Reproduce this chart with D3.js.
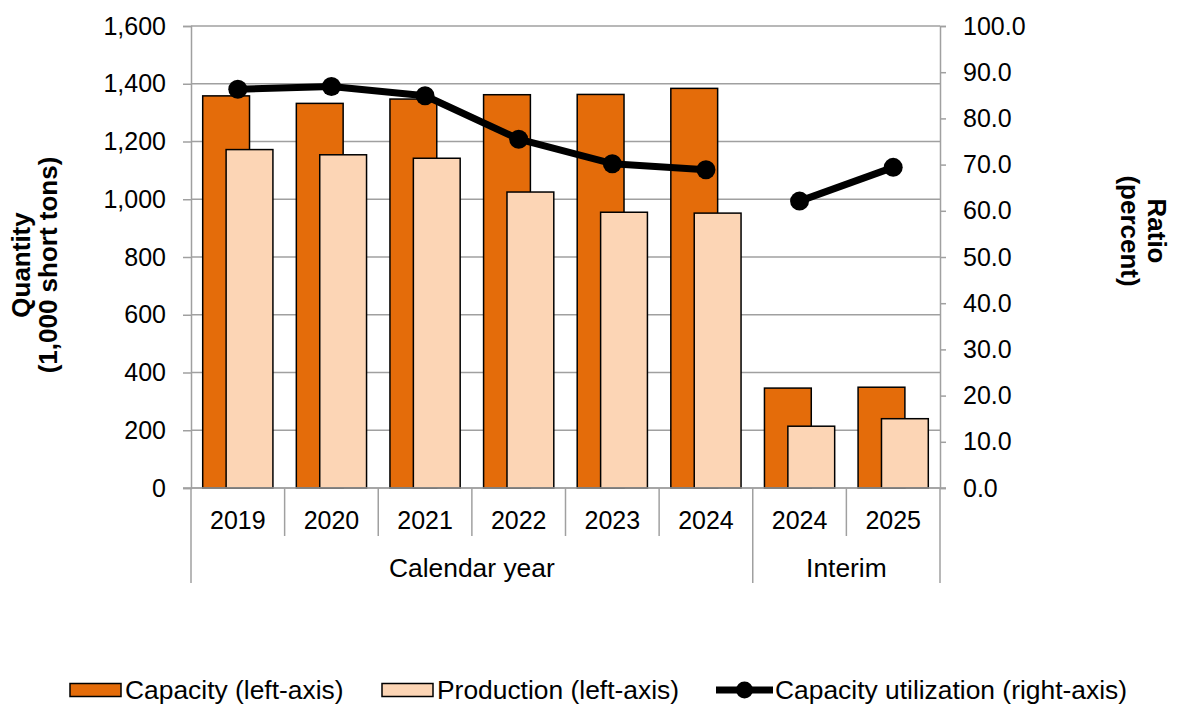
<!DOCTYPE html>
<html>
<head>
<meta charset="utf-8">
<script src="https://cdn.jsdelivr.net/npm/d3@7"></script>
<style>
  html, body { margin: 0; padding: 0; background: #fff; }
  svg { display: block; font-family: "Liberation Sans", Arial, sans-serif; }
</style>
</head>
<body>
<svg id="chart" width="1178" height="704"></svg>
<script>
// Periods along the x-axis and the group each belongs to
const periods = ["2019", "2020", "2021", "2022", "2023", "2024", "2024", "2025"];
const groupLabels = ["Calendar year", "Interim"];
const groupSizes = [6, 2];

// Quantities in 1,000 short tons (left axis)
const capacity = [1358, 1332, 1347, 1362, 1363, 1384, 346, 349];
const production = [1172, 1154, 1142, 1025, 955, 952, 214, 240];

// Capacity utilization in percent (right axis)
const utilization = [86.3, 86.9, 84.9, 75.5, 70.2, 68.9, 62.1, 69.4];

// Axis ticks
const leftTicks = [0, 200, 400, 600, 800, 1000, 1200, 1400, 1600];
const rightTicks = [0, 10, 20, 30, 40, 50, 60, 70, 80, 90, 100];

const colors = { capacity: "#E46C0A", production: "#FCD5B5", line: "#000000", grid: "#A0A0A0" };
const FONT = 25;       // numeric labels
const FONT_TEXT = 26.4; // word labels and legend

const svg = d3.select("#chart");
const plot = { left: 191, right: 940, top: 26, bottom: 488 };

const x = d3.scaleBand().domain(d3.range(periods.length)).range([plot.left, plot.right]).padding(0);
const yL = d3.scaleLinear().domain([0, 1600]).range([plot.bottom, plot.top]);
const yR = d3.scaleLinear().domain([0, 100]).range([plot.bottom, plot.top]);
const bw = x.bandwidth();

// Horizontal gridlines
svg.append("g").selectAll("line").data(leftTicks).join("line")
  .attr("x1", plot.left).attr("x2", plot.right)
  .attr("y1", d => yL(d)).attr("y2", d => yL(d))
  .attr("stroke", colors.grid).attr("stroke-width", 1.5);

// Left axis
const gL = svg.append("g").attr("transform", `translate(${plot.left},0)`)
  .call(d3.axisLeft(yL).tickValues(leftTicks).tickFormat(d3.format(",")).tickSize(8).tickPadding(17));
gL.select(".domain").attr("stroke", colors.grid).attr("stroke-width", 1.5);
gL.selectAll(".tick line").attr("stroke", colors.grid).attr("stroke-width", 1.5);
gL.selectAll(".tick text").attr("font-size", FONT).attr("fill", "#000").attr("font-family", "Liberation Sans, Arial, sans-serif");

// Right axis
const gR = svg.append("g").attr("transform", `translate(${plot.right},0)`)
  .call(d3.axisRight(yR).tickValues(rightTicks).tickFormat(d3.format(".1f")).tickSize(6).tickPadding(17));
gR.select(".domain").attr("stroke", colors.grid).attr("stroke-width", 1.5);
gR.selectAll(".tick line").attr("stroke", colors.grid).attr("stroke-width", 1.5);
gR.selectAll(".tick text").attr("font-size", FONT).attr("fill", "#000").attr("font-family", "Liberation Sans, Arial, sans-serif");

// Bars: capacity sits left of centre, production overlaps it to the right
const barW = bw * 0.5;
svg.append("g").selectAll("rect").data(capacity).join("rect")
  .attr("x", (d, i) => x(i) + bw * 0.125)
  .attr("y", d => yL(d))
  .attr("width", barW)
  .attr("height", d => yL(0) - yL(d))
  .attr("fill", colors.capacity).attr("stroke", "#000").attr("stroke-width", 1.5);

svg.append("g").selectAll("rect").data(production).join("rect")
  .attr("x", (d, i) => x(i) + bw * 0.375)
  .attr("y", d => yL(d))
  .attr("width", barW)
  .attr("height", d => yL(0) - yL(d))
  .attr("fill", colors.production).attr("stroke", "#000").attr("stroke-width", 1.5);

// Utilization line, broken between the calendar-year and interim groups
const line = d3.line().x(d => x(d.i) + bw / 2).y(d => yR(d.v));
let start = 0;
groupSizes.forEach(n => {
  const seg = utilization.slice(start, start + n).map((v, k) => ({ i: start + k, v }));
  svg.append("path").datum(seg).attr("d", line)
    .attr("fill", "none").attr("stroke", colors.line).attr("stroke-width", 7).attr("stroke-linejoin", "round");
  start += n;
});
svg.append("g").selectAll("circle").data(utilization).join("circle")
  .attr("cx", (d, i) => x(i) + bw / 2).attr("cy", d => yR(d)).attr("r", 9.5)
  .attr("fill", colors.line);

// Category axis along the bottom
const axisG = svg.append("g");
axisG.append("line").attr("x1", plot.left - 8).attr("x2", plot.right + 6)
  .attr("y1", plot.bottom).attr("y2", plot.bottom)
  .attr("stroke", colors.grid).attr("stroke-width", 1.5);

const boundaries = [0];
groupSizes.reduce((acc, n) => { boundaries.push(acc + n); return acc + n; }, 0);
d3.range(periods.length + 1).forEach(i => {
  const xp = i < periods.length ? x(i) : plot.right;
  const long = boundaries.includes(i);
  axisG.append("line").attr("x1", xp).attr("x2", xp)
    .attr("y1", plot.bottom).attr("y2", long ? 583 : 536)
    .attr("stroke", colors.grid).attr("stroke-width", 1.5);
});

axisG.selectAll("text.period").data(periods).join("text").attr("class", "period")
  .attr("x", (d, i) => x(i) + bw / 2).attr("y", 520).attr("dy", "0.35em")
  .attr("text-anchor", "middle").attr("font-size", FONT).text(d => d);

let gs = 0;
groupLabels.forEach((g, k) => {
  const x0 = x(gs);
  const x1 = gs + groupSizes[k] < periods.length ? x(gs + groupSizes[k]) : plot.right;
  axisG.append("text").attr("x", (x0 + x1) / 2).attr("y", 568).attr("dy", "0.35em")
    .attr("text-anchor", "middle").attr("font-size", FONT_TEXT).text(g);
  gs += groupSizes[k];
});

// Axis titles
const leftTitle = svg.append("text").attr("transform", "translate(35,265) rotate(-90)")
  .attr("text-anchor", "middle").attr("font-size", 26).attr("font-weight", "bold");
leftTitle.append("tspan").attr("x", 0).attr("dy", "-0.2em").text("Quantity");
leftTitle.append("tspan").attr("x", 0).attr("dy", "1.05em").text("(1,000 short tons)");

const rightTitle = svg.append("text").attr("transform", "translate(1143,231) rotate(90)")
  .attr("text-anchor", "middle").attr("font-size", 26).attr("font-weight", "bold");
rightTitle.append("tspan").attr("x", 0).attr("dy", "-0.2em").text("Ratio");
rightTitle.append("tspan").attr("x", 0).attr("dy", "1.05em").text("(percent)");

// Legend
const legY = 690;
const legend = svg.append("g");
const legendItems = [
  { label: "Capacity (left-axis)", type: "bar", fill: colors.capacity, x: 70 },
  { label: "Production (left-axis)", type: "bar", fill: colors.production, x: 382 },
  { label: "Capacity utilization (right-axis)", type: "line", x: 716 }
];
legendItems.forEach(it => {
  if (it.type === "bar") {
    legend.append("rect").attr("x", it.x).attr("y", legY - 6.5).attr("width", 51).attr("height", 13)
      .attr("fill", it.fill).attr("stroke", "#000").attr("stroke-width", 1.5);
    legend.append("text").attr("x", it.x + 55).attr("y", legY).attr("dy", "0.35em")
      .attr("font-size", FONT_TEXT).text(it.label);
  } else {
    legend.append("line").attr("x1", it.x).attr("x2", it.x + 57).attr("y1", legY).attr("y2", legY)
      .attr("stroke", colors.line).attr("stroke-width", 7);
    legend.append("circle").attr("cx", it.x + 28.5).attr("cy", legY).attr("r", 8.5).attr("fill", colors.line);
    legend.append("text").attr("x", it.x + 59).attr("y", legY).attr("dy", "0.35em")
      .attr("font-size", FONT_TEXT).text(it.label);
  }
});
</script>
</body>
</html>
